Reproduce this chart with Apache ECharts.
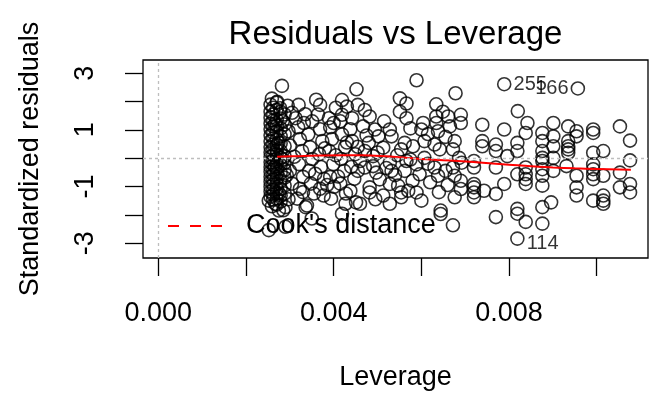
<!DOCTYPE html>
<html><head><meta charset="utf-8">
<script src="https://cdn.jsdelivr.net/npm/echarts@6/dist/echarts.min.js"></script>
<style>html,body{margin:0;padding:0;background:#fff}#c{width:652px;height:396px}</style>
</head><body><div id="c"></div>
<script>
// [leverage, standardized residual]
const obsDenseColumn = [
  [0.00256,1.89],[0.00256,1.64],[0.00256,1.43],[0.00256,1.22],[0.00256,1.02],[0.00256,0.81],[0.00256,0.60],[0.00256,0.39],[0.00256,0.21],[0.00256,0.04],[0.00256,-0.14],[0.00256,-0.31],[0.00256,-0.48],[0.00256,-0.66],[0.00256,-0.83],[0.00256,-1.01],[0.00256,-1.18],[0.00256,-1.36],
  [0.00262,1.78],[0.00262,1.54],[0.00262,1.33],[0.00262,1.12],[0.00262,0.91],[0.00262,0.70],[0.00262,0.49],[0.00262,0.32],[0.00262,0.11],[0.00262,-0.07],[0.00262,-0.24],[0.00262,-0.42],[0.00262,-0.59],[0.00262,-0.77],[0.00262,-0.94],[0.00262,-1.12],[0.00262,-1.29],[0.00262,-1.46],
  [0.00270,1.96],[0.00270,1.71],[0.00270,1.36],[0.00270,1.15],[0.00270,0.94],[0.00270,0.67],[0.00270,0.46],[0.00270,0.28],[0.00270,0.14],[0.00270,-0.03],[0.00270,-0.21],[0.00270,-0.38],[0.00270,-0.56],[0.00270,-0.73],[0.00270,-0.91],[0.00270,-1.08],[0.00270,-1.25],[0.00270,-1.43],[0.00270,-1.64],
  [0.00279,1.64],[0.00279,1.40],[0.00279,1.05],[0.00279,0.77],[0.00279,0.53],[0.00279,0.25],[0.00279,0.01],[0.00279,-0.24],[0.00279,-0.52],[0.00279,-0.80],[0.00279,-1.08],[0.00279,-1.32],[0.00279,-1.53],
  [0.00288,1.54],[0.00288,1.19],[0.00288,0.84],[0.00288,0.42],[0.00288,0.07],[0.00288,-0.17],[0.00288,-0.42],[0.00288,-0.69],[0.00288,-0.97],[0.00288,-1.25],
  [0.00259,2.10],[0.00266,1.20],[0.00274,0.55],[0.00284,-0.05],[0.00293,-0.60],[0.00266,-0.30],[0.00297,0.95],[0.00295,1.85],[0.00284,1.30],[0.00259,-1.70],[0.00297,-1.45],[0.00276,-1.25]
];
const obsLeft = [
  [0.00282,2.55],[0.00271,1.99],[0.00278,1.76],[0.00320,1.88],[0.00369,1.88],[0.00419,2.05],[0.00430,1.82],[0.00313,1.41],[0.00332,1.24],[0.00351,1.30],[0.00389,1.41],[0.00400,1.24],[0.00419,1.53],[0.00442,1.41],[0.00455,1.88],[0.00452,2.43],
  [0.00275,-1.85],[0.00290,-1.73],[0.00336,-1.73],[0.00377,-1.32],[0.00427,-1.61],[0.00419,-1.96],[0.00451,-1.56],[0.00252,-1.50],[0.00267,-1.61],[0.00252,-2.54],[0.00290,-2.42],[0.00350,-2.13],[0.00339,-1.67],[0.00285,-1.84],
  [0.00319,1.09],[0.00323,0.67],[0.00328,0.25],[0.00321,-0.21],[0.00330,-0.66],[0.00323,-1.08],[0.00317,-1.43],
  [0.00342,0.84],[0.00346,0.39],[0.00351,-0.03],[0.00344,-0.45],[0.00348,-0.90],[0.00355,-1.25],
  [0.00364,1.54],[0.00369,1.02],[0.00374,0.60],[0.00367,0.14],[0.00371,-0.31],[0.00378,-0.73],[0.00369,-1.08],
  [0.00392,1.09],[0.00396,0.67],[0.00390,0.25],[0.00399,-0.21],[0.00392,-0.66],[0.00401,-1.01],[0.00394,-1.43],
  [0.00415,1.30],[0.00419,0.84],[0.00426,0.39],[0.00417,-0.03],[0.00424,-0.45],[0.00415,-0.90],[0.00428,-1.25],
  [0.00438,1.02],[0.00442,0.60],[0.00449,0.14],[0.00440,-0.31],[0.00447,-0.73],[0.00438,-1.15],
  [0.00360,2.06],[0.00405,1.78],
  [0.00305,1.60],[0.00335,1.55],[0.00310,0.05],[0.00300,-0.45],[0.00305,-0.90],[0.00358,-0.55],[0.00380,0.35],[0.00405,0.10],[0.00410,-0.65],[0.00430,0.55],[0.00455,-0.45],[0.00385,-0.95],[0.00300,0.45],[0.00330,-1.20],[0.00455,0.40]
];
const obsCentre = [
  [0.00589,2.75],[0.00551,2.11],[0.00566,1.93],[0.00551,1.64],[0.00566,1.41],[0.00634,1.90],[0.00649,1.64],[0.00471,1.70],[0.00482,1.47],[0.00604,1.24],[0.00600,1.01],[0.00634,1.47],[0.00634,1.24],[0.00638,0.95],[0.00661,1.47],[0.00665,1.12],[0.00528,1.01],[0.00532,0.77],[0.00494,1.01],[0.00502,0.77],[0.00467,1.12],
  [0.00562,0.54],[0.00554,0.31],[0.00581,0.42],[0.00607,0.60],[0.00630,0.48],[0.00642,0.31],[0.00676,0.60],[0.00672,0.31],[0.00480,0.54],[0.00471,0.25],[0.00513,0.37],[0.00490,0.07],[0.00607,0.01],
  [0.00460,-0.10],[0.00471,-0.33],[0.00490,-0.28],[0.00497,-0.51],[0.00528,-0.16],[0.00532,-0.45],[0.00566,-0.10],[0.00562,-0.45],[0.00589,-0.22],[0.00596,-0.57],[0.00630,-0.33],[0.00638,-0.62],[0.00672,-0.33],[0.00676,-0.62],
  [0.00482,-1.03],[0.00482,-1.21],[0.00528,-0.91],[0.00547,-0.97],[0.00554,-1.21],[0.00554,-1.38],[0.00513,-1.32],[0.00528,-1.61],[0.00570,-1.15],[0.00589,-1.21],[0.00676,-1.38],[0.00460,-1.61],[0.00644,-1.85],[0.00644,-1.97],
  [0.00500,0.20],[0.00520,-0.35],[0.00545,0.10],[0.00575,-0.05],[0.00615,-0.20],[0.00655,-0.45],[0.00505,-0.75],[0.00540,-0.60],[0.00580,-0.80],[0.00620,-0.85],[0.00660,-0.95],[0.00475,0.80],[0.00515,1.30],[0.00575,1.05],[0.00615,0.85],[0.00655,0.75],[0.00495,-1.45],[0.00600,-1.50],[0.00640,-1.20]
];
const obsRight = [
  [0.00678,2.29],[0.00820,1.66],[0.00690,1.53],[0.00690,1.24],[0.00739,1.18],[0.00789,1.01],[0.00842,1.24],[0.00838,0.89],[0.00876,0.89],[0.00876,0.60],[0.00739,0.60],[0.00739,0.42],[0.00770,0.48],[0.00770,0.25],[0.00819,0.54],[0.00819,0.25],[0.00876,0.25],[0.00876,0.01],[0.00876,-0.10],
  [0.00686,0.01],[0.00720,-0.10],[0.00720,-0.33],[0.00692,-0.16],[0.00770,-0.33],[0.00796,0.07],[0.00819,-0.57],[0.00838,-0.33],[0.00838,-0.57],[0.00838,-0.74],[0.00838,-0.91],[0.00876,-0.39],[0.00876,-0.62],[0.00876,-0.97],
  [0.00690,-0.80],[0.00690,-1.09],[0.00720,-0.91],[0.00720,-1.03],[0.00720,-1.21],[0.00720,-1.38],[0.00743,-1.15],[0.00770,-1.26],[0.00789,-0.91],[0.00672,-2.37],[0.00770,-2.08],[0.00819,-1.79],[0.00819,-1.96],[0.00838,-2.25],[0.00876,-1.73],[0.00876,-2.31],[0.00896,-1.56],
  [0.00901,1.24],[0.00935,1.12],[0.00954,0.95],[0.00954,0.77],[0.00992,1.01],[0.00992,0.89],[0.01053,1.12],[0.01076,0.62],[0.00935,0.60],[0.00935,0.42],[0.00935,0.31],[0.00935,0.19],[0.00901,0.77],[0.00901,0.42],[0.00901,0.01],[0.00901,-0.45],[0.00992,0.19],[0.01015,0.25],[0.01076,-0.08],
  [0.00931,-0.28],[0.00954,-0.62],[0.00954,-1.03],[0.00954,-1.32],[0.00992,-0.22],[0.00992,-0.39],[0.00992,-0.57],[0.00992,-0.74],[0.01015,-0.62],[0.01053,-0.51],[0.01053,-1.03],[0.01076,-0.91],[0.01076,-1.21],[0.00992,-1.50],[0.01015,-1.32],[0.01015,-1.50],[0.01015,-1.61]
];
// labelled extreme observations
const labelIds = ['255','166','114'];
const labelLev = [0.00789,0.00957,0.00819];
const labelRes = [2.61,2.46,-2.84];
// red smoother
const smoothLev = [0.00271,0.00320,0.00370,0.00420,0.00465,0.00506,0.00550,0.00600,0.00650,0.00683,0.00740,0.00800,0.00850,0.00900,0.00950,0.01000,0.01078];
const smoothRes = [0.05,0.07,0.09,0.10,0.10,0.08,0.03,-0.03,-0.07,-0.10,-0.16,-0.23,-0.29,-0.33,-0.36,-0.38,-0.41];
// axis ticks
const xTicks = [0,0.002,0.004,0.006,0.008,0.010];
const xTickLabels = [0,0.004,0.008];
const yTicks = [-3,-2,-1,0,1,2,3];
const yTickLabels = [-3,-1,1,3];

const FONT = "'Liberation Sans', Arial, Helvetica, sans-serif";
const allPoints = obsDenseColumn.concat(obsLeft, obsCentre, obsRight);
const labelled = labelIds.map((id,i)=>({
  name:id, value:[labelLev[i],labelRes[i]],
  label:{show:true, formatter:id, position: i===1?'left':'right', distance:2, offset: labelRes[i]<0?[0,5]:[0,0],
    fontSize:20, color:'#000', fontFamily:FONT}
}));
const circleStyle = {color:'rgba(0,0,0,0)', borderColor:'#000', borderWidth:1.6};

const chart = echarts.init(document.getElementById('c'), null, {renderer:'canvas'});
chart.setOption({
  animation:false,
  backgroundColor:'#fff',
  title:{text:'Residuals vs Leverage', left:395.5, top:18, textAlign:'center', padding:0,
    textStyle:{fontSize:33, fontWeight:'normal', color:'#000', fontFamily:FONT}},
  legend:{left:168, top:212.5, padding:0, itemWidth:54, itemHeight:27, selectedMode:false,
    data:[{name:"Cook's distance", icon:'path://M0 0H11V2H0Z M22 0H33V2H22Z M43 0H54V2H43Z'}],
    itemStyle:{color:'#ff0000', borderWidth:0},
    textStyle:{fontSize:27, color:'#000', fontFamily:FONT, padding:[0,0,0,19]}},
  grid:{left:143, right:4, top:60, bottom:136, show:true, borderColor:'#000', borderWidth:1.3, backgroundColor:'transparent'},
  xAxis:{type:'value', min:-0.00035, max:0.01117,
    name:'Leverage', nameLocation:'middle', nameGap:106,
    nameTextStyle:{fontSize:27, color:'#000', fontFamily:FONT},
    splitLine:{show:false}, axisLine:{show:false, onZero:false},
    axisTick:{show:true, length:18, customValues:xTicks, lineStyle:{color:'#000', width:1.3}},
    axisLabel:{customValues:xTickLabels, formatter:v=>v.toFixed(3), margin:42, fontSize:27, color:'#000', fontFamily:FONT}},
  yAxis:{type:'value', min:-3.524, max:3.464,
    name:'Standardized residuals', nameLocation:'middle', nameGap:99,
    nameTextStyle:{fontSize:27, color:'#000', fontFamily:FONT},
    splitLine:{show:false}, axisLine:{show:false, onZero:false},
    axisTick:{show:true, length:18, customValues:yTicks, lineStyle:{color:'#000', width:1.3}},
    axisLabel:{customValues:yTickLabels, rotate:90, margin:44, fontSize:27, color:'#000', fontFamily:FONT}},
  series:[
    {type:'scatter', name:'obs', data:allPoints, symbol:'circle', symbolSize:13, itemStyle:circleStyle, silent:true, z:3},
    {type:'scatter', name:'labelled', data:labelled, symbol:'circle', symbolSize:13, itemStyle:circleStyle, silent:true, z:3},
    {type:'line', name:'smooth', data:smoothLev.map((x,i)=>[x,smoothRes[i]]), smooth:0.4, symbol:'none',
      lineStyle:{color:'#ff0000', width:2}, silent:true, z:4,
      markLine:{silent:true, symbol:'none', label:{show:false}, animation:false,
        lineStyle:{color:'#bebebe', type:[3,3], width:1.3},
        data:[{yAxis:0},{xAxis:0}]}},
    {type:'line', name:"Cook's distance", data:[], symbol:'none', color:'#ff0000',
      lineStyle:{color:'#ff0000', type:'dashed', width:1.5}}
  ]
});
</script></body></html>
